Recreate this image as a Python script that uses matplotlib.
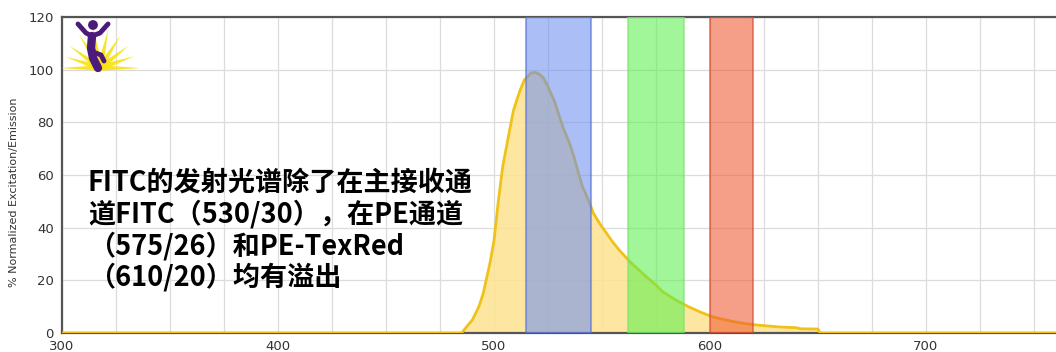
#!/usr/bin/env python3
"""FITC emission spectrum with FITC / PE / PE-TexRed detector bands."""

import matplotlib

matplotlib.use("Agg")
import matplotlib.pyplot as plt
from matplotlib.patches import Circle, Polygon
import numpy as np

plt.rcParams["font.family"] = ["Noto Sans CJK SC", "DejaVu Sans"]

# FITC emission (% normalized)
wavelength = [300, 485, 486, 488, 490, 493, 495, 498, 500, 502, 504, 507, 509, 512,
              514, 517, 519, 521, 523, 525, 528, 530, 532, 535, 537, 539, 541, 544,
              546, 549, 552, 555, 558, 563, 567, 571, 575, 578, 584, 590, 596, 601,
              606, 611, 616, 622, 632, 640, 642, 650, 651, 760]
emission = [0, 0, 1, 3, 5, 10, 15, 26, 35, 50, 63, 76, 84.5, 92,
            96, 98.7, 99, 98.3, 96.7, 93.5, 88, 83, 78, 72, 67, 61, 55.5, 50,
            45.5, 41.5, 38, 34.5, 31.5, 27, 24, 21, 18.2, 15.7, 12.6, 10, 7.8, 6.2,
            5.2, 4.3, 3.6, 3, 2.3, 2, 1.6, 1.5, 0, 0]

# detector channels: centre / bandwidth
band_names = ["FITC", "PE", "PE-TexRed"]
band_center = [530, 575, 610]
band_width = [30, 26, 20]
band_face = ["#6f8ff0", "#5cf04e", "#f05a32"]
band_edge = ["#5570d0", "#7ee070", "#d04a30"]

note = "FITC的发射光谱除了在主接收通\n道FITC（530/30），在PE通道\n（575/26）和PE-TexRed\n（610/20）均有溢出"

W, H = 1056, 352
fig = plt.figure(figsize=(W / 100, H / 100), dpi=100)
ax = fig.add_axes([62 / W, 19 / H, (W - 62) / W, (333 - 17) / H])

ax.fill_between(wavelength, emission, 0, color="#fde390", alpha=0.85, lw=0, zorder=2)
ax.plot(wavelength, emission, color="#efc21a", lw=2, zorder=3)

for c, w, fc, ec in zip(band_center, band_width, band_face, band_edge):
    ax.axvspan(c - w / 2, c + w / 2, facecolor=fc, alpha=0.58, edgecolor=ec,
               lw=1.5, zorder=4)

ax.set_xlim(300, 760.2)
ax.set_ylim(0, 120)
ax.set_xticks(np.arange(300, 761, 100))
ax.set_xticks(np.arange(300, 761, 25), minor=True)
ax.set_yticks(np.arange(0, 121, 20))
ax.grid(True, which="both", axis="x", color="#dcdcdc", lw=0.9, zorder=0)
ax.grid(True, which="major", axis="y", color="#dcdcdc", lw=0.9, zorder=0)
ax.tick_params(which="both", length=0, labelsize=9.5, colors="#333333")
ax.tick_params(axis="y", pad=6)
ax.tick_params(axis="x", pad=5)
for lab in ax.get_xticklabels() + ax.get_yticklabels():
    lab.set_family("DejaVu Sans")
ax.spines["right"].set_visible(False)
for s in ["left", "bottom", "top"]:
    ax.spines[s].set_color("#555555")
    ax.spines[s].set_linewidth(1.6)
ax.set_ylabel("% Normalized Excitation/Emission", fontsize=8, color="#333333",
              family="DejaVu Sans")
ax.yaxis.set_label_coords(-0.043, 0.446)

fig.text(88 / W, 1 - 169 / H, note, fontsize=19.5, fontweight="bold", color="black",
         va="top", ha="left", linespacing=1.12)

# small logo in the top-left corner (pixel coordinates)
lax = fig.add_axes([62 / W, 1 - 75 / H, 80 / W, 65 / H])
lax.set_xlim(62, 142)
lax.set_ylim(75, 10)
lax.axis("off")
cx, cy = 100, 68
for ang, ln, wd in [(180, 40, 2.8), (162, 36, 3.2), (144, 38, 3.2), (122, 40, 3.2),
                    (100, 42, 3.2), (78, 40, 3.2), (58, 38, 3.2), (38, 36, 3.2),
                    (19, 36, 3.2), (0, 40, 2.8)]:
    a = np.deg2rad(ang)
    tip = (cx + ln * np.cos(a), cy - ln * np.sin(a))
    nx, ny = -np.sin(a) * wd, -np.cos(a) * wd
    lax.add_patch(Polygon([(cx + nx, cy + ny), tip, (cx - nx, cy - ny)],
                          closed=True, color="#f8e312", alpha=0.9, lw=0))
purple = "#4b1a7a"
lax.add_patch(Circle((93, 25), 4.2, color=purple))
lax.plot([78, 86, 92], [24, 33, 36], color=purple, lw=3.5, solid_capstyle="round")
lax.plot([92, 100, 108], [36, 33, 24], color=purple, lw=3.5, solid_capstyle="round")
lax.plot([92, 91, 93, 98], [36, 48, 58, 68], color=purple, lw=6, solid_capstyle="round")
lax.plot([93, 101, 104], [52, 55, 61], color=purple, lw=3.5, solid_capstyle="round")

fig.savefig("out.png", dpi=100)
